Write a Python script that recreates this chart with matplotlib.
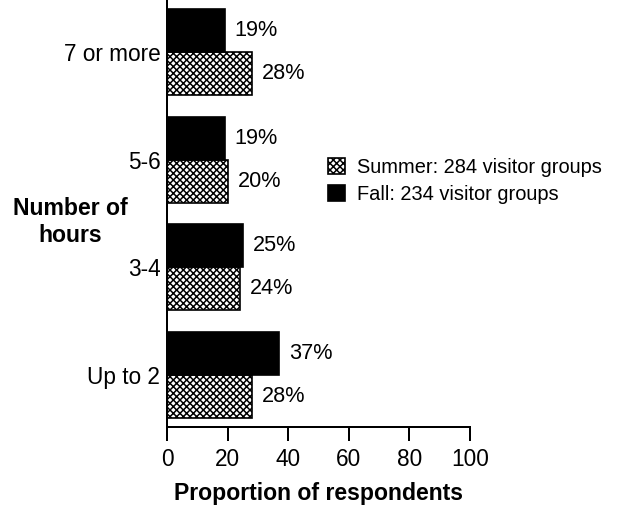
import numpy as np
import matplotlib
matplotlib.use("Agg")
import matplotlib.pyplot as plt

categories = ["Up to 2", "3-4", "5-6", "7 or more"]
summer = [28, 24, 20, 28]
fall = [37, 25, 19, 19]
summer_label = "Summer: 284 visitor groups"
fall_label = "Fall: 234 visitor groups"

plt.rcParams['font.family'] = ['Liberation Sans', 'DejaVu Sans']
plt.rcParams['hatch.linewidth'] = 0.9

fig = plt.figure(figsize=(621 / 120, 506 / 120), dpi=120)
ax = fig.add_axes([167 / 621, 1 - 427 / 506, (470 - 167) / 621, 427 / 506])

y = np.arange(len(categories))
h = 0.4
b_s = ax.barh(y - h / 2, summer, height=h, color='white', edgecolor='black',
              hatch='xxxxxx', linewidth=1.0, label=summer_label)
b_f = ax.barh(y + h / 2, fall, height=h, color='black', edgecolor='black',
              linewidth=1.0, label=fall_label)

for bars, vals in ((b_s, summer), (b_f, fall)):
    for bar, v in zip(bars, vals):
        ax.annotate(f"{v}%", (v, bar.get_y() + bar.get_height() / 2),
                    xytext=(6, 0), textcoords='offset points',
                    ha='left', va='center', fontsize=13)

ax.set_xlim(0, 100)
ax.set_ylim(-0.483, 3.483)
ax.set_xticks([0, 20, 40, 60, 80, 100])
ax.set_yticks(y)
ax.set_yticklabels(categories)
ax.tick_params(axis='x', length=8.4, width=1.2, labelsize=13.6, pad=4.5)
ax.tick_params(axis='y', length=0, labelsize=13.6, pad=4)
for s in ('top', 'right'):
    ax.spines[s].set_visible(False)
for s in ('left', 'bottom'):
    ax.spines[s].set_linewidth(1.2)

ax.set_xlabel("Proportion of respondents", fontsize=13.8, fontweight='bold', labelpad=6.5)
fig.text(70 / 621, 1 - 222 / 506, "Number of\nhours", ha='center', va='center',
         multialignment='center', fontsize=13.8, fontweight='bold')

ax.legend(handles=[b_s, b_f], loc='upper left', bbox_to_anchor=(328 / 621, 1 - 158 / 506),
          bbox_transform=fig.transFigure, frameon=False, fontsize=12,
          handlelength=0.85, handleheight=0.85, handletextpad=0.6,
          labelspacing=0.4, borderpad=0, borderaxespad=0)

fig.savefig("out.png", dpi=120)
